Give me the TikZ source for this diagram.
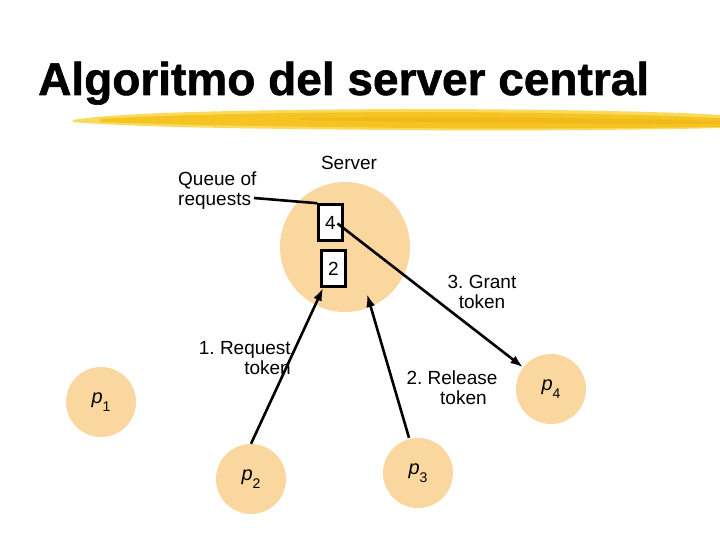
\documentclass[tikz,border=0pt]{standalone}
\usepackage{fontspec}
\setmainfont[BoldFeatures={FakeBold=1.2}]{Liberation Sans}
\usetikzlibrary{arrows.meta,calc}
\definecolor{peach}{RGB}{250,215,158}
\definecolor{brushA}{RGB}{245,196,35}
\definecolor{brushB}{RGB}{250,218,90}
\definecolor{brushC}{RGB}{238,180,20}
\frenchspacing
\begin{document}
\begin{tikzpicture}[x=1pt,y=-1pt,
  lbl/.style={font=\fontsize{19}{20}\selectfont, inner sep=0pt},
  proc/.style={circle, fill=peach, minimum size=70pt, inner sep=0pt, font=\fontsize{20}{22}\selectfont},
  qbox/.style={draw=black, line width=2.6pt, fill=white, minimum width=24pt, minimum height=36pt, inner sep=0pt, font=\fontsize{19}{20}\selectfont},
  conn/.style={line width=2.6pt, draw=black},
  arr/.style={conn, -{Latex[length=13pt,width=9pt]}}]
\useasboundingbox (0,0) rectangle (720,540);
\fill[white] (0,0) rectangle (720,540);
% title
\node[anchor=base west, inner sep=0pt, font=\fontsize{46}{50}\selectfont\bfseries] (title) at (38,95) {Algoritmo del server central};
% brush stroke
\fill[brushB] (73,120) .. controls (120,112) and (250,110) .. (400,109) .. controls (550,109) and (680,112) .. (720,115) -- (720,128) .. controls (650,130) and (500,131) .. (400,130) .. controls (250,129) and (130,127) .. (73,122) -- cycle;
\fill[brushA] (100,119) .. controls (200,113) and (350,112) .. (450,112) .. controls (580,113) and (680,116) .. (720,118) -- (720,127) .. controls (650,128) and (500,129) .. (420,128) .. controls (300,127) and (180,125) .. (100,122) -- cycle;
\fill[brushC, opacity=0.6] (300,118) .. controls (420,116) and (560,117) .. (720,121) -- (720,124) .. controls (560,124) and (420,123) .. (300,120) -- cycle;
% server
\node[circle, fill=peach, minimum size=130pt, inner sep=0pt] (server) at (345,247) {};
\node[lbl, anchor=base] (serverlbl) at (349,170) {Server};
\node[qbox] (b4) at (330.5,222.5) {4};
\node[qbox] (b2) at (333.5,268.5) {2};
% queue label
\node[lbl, anchor=north west, align=left] (queue) at (178,172) {Queue of\\requests};
\coordinate (qend) at (254,198);
\draw[conn] (qend) -- (b4.north west);
% processes
\node[proc] (p1) at (101,402) {\textit{p}\raisebox{-8pt}{\fontsize{14}{14}\selectfont 1}};
\node[proc] (p2) at (251,479) {\textit{p}\raisebox{-8pt}{\fontsize{14}{14}\selectfont 2}};
\node[proc] (p3) at (418,473) {\textit{p}\raisebox{-8pt}{\fontsize{14}{14}\selectfont 3}};
\node[proc] (p4) at (551,389) {\textit{p}\raisebox{-8pt}{\fontsize{14}{14}\selectfont 4}};
% arrows
\coordinate (relend) at (367,294);
\draw[arr] (p2.north) -- ($(b2.south west)+(3,0)$);
\draw[arr] ($(p3.north)+(-9,0)$) -- (relend);
\draw[arr] ($(b4.center)+(7,1)$) -- (p4);
% labels
\node[lbl, anchor=north east, align=right] (l1) at (291,341) {1. Request\\token};
\node[lbl, anchor=north, align=center] (l2) at (452,371) {2. Release\\\hspace*{1.2em}token};
\node[lbl, anchor=north, align=center] (l3) at (482,275) {3. Grant\\token};
\end{tikzpicture}
\end{document}
